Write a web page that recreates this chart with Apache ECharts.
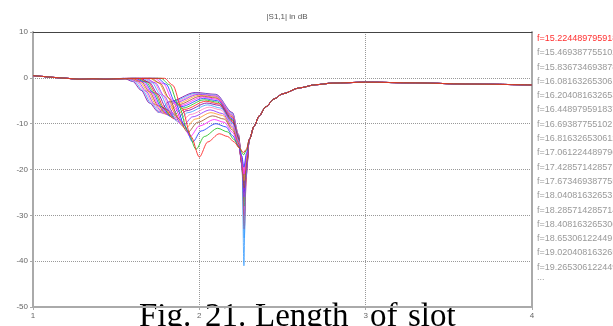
<!DOCTYPE html>
<html>
<head>
<meta charset="utf-8">
<script src="https://cdn.jsdelivr.net/npm/echarts@6/dist/echarts.min.js"></script>
<style>
  html, body { margin: 0; padding: 0; background: #fff; }
  #chart { width: 613px; height: 326px; }
</style>
</head>
<body>
<div id="chart"></div>
<script>
// frequency of each sweep (legend text, 14 significant digits like the source)
const freqs = [
  '15.224489795918', '15.469387755102', '15.836734693878', '16.081632653061',
  '16.204081632653', '16.448979591837', '16.69387755102', '16.816326530612',
  '17.061224489796', '17.428571428571', '17.673469387755', '18.040816326531',
  '18.285714285714', '18.408163265306', '18.65306122449', '19.020408163265',
  '19.265306122449', '19.510204081633', '19.877551020408', '20.122448979592'
]
const legendShown = 17

const xTicks = [1, 2, 3, 4]
const yTicks = [10, 0, -10, -20, -30, -40, -50]

// part every sweep shares (flat start)
const headPts = [[1.0, 0.5], [1.06, 0.3], [1.12, 0.1], [1.2, -0.1], [1.28, -0.3], [1.36, -0.2], [1.44, -0.3], [1.5, -0.2]]

// part every sweep shares (right side of the main notch and the flat end)
const tailPts = [[2.30, -13.5], [2.33, -10.5], [2.36, -8.3], [2.4, -6.3], [2.45, -4.6], [2.5, -3.5], [2.6, -2.2],
  [2.7, -1.5], [2.8, -1.15], [3.0, -0.95], [3.3, -1.1], [3.6, -1.35], [4.0, -1.55]]

// per sweep: first dip, hump, main notch
const curvePts = [
  [[1.79,-0.1],[1.84,-1.6],[1.895,-6.6],[1.95,-12.8],[2.0,-17.3],[2.05,-14.0],[2.12,-12.2],[2.17,-12.8],[2.21,-14.0],[2.24,-15.3],[2.265,-16.3],[2.283,-15.6]],
  [[1.77,-0.1],[1.82,-1.5],[1.875,-5.9],[1.93,-11.6],[1.98,-15.6],[2.03,-12.8],[2.11,-11.0],[2.17,-11.8],[2.21,-13.5],[2.24,-15.2],[2.266,-16.8],[2.283,-15.8]],
  [[1.75,-0.1],[1.80,-1.4],[1.855,-5.3],[1.91,-10.4],[1.96,-14.0],[2.01,-11.6],[2.10,-10.0],[2.16,-10.7],[2.2,-12.6],[2.235,-14.8],[2.255,-17.0],[2.268,-19.5],[2.283,-16.5]],
  [[1.73,-0.1],[1.785,-1.3],[1.84,-4.9],[1.895,-9.6],[1.945,-12.8],[2.0,-10.5],[2.09,-9.1],[2.15,-9.7],[2.2,-11.9],[2.235,-14.5],[2.255,-17.5],[2.268,-21],[2.283,-17]],
  [[1.71,-0.1],[1.765,-1.2],[1.82,-4.5],[1.875,-8.9],[1.93,-11.9],[1.99,-9.7],[2.08,-8.3],[2.15,-9.0],[2.2,-11.4],[2.235,-14.3],[2.254,-18],[2.27,-24],[2.285,-18.5]],
  [[1.70,-0.1],[1.755,-1.1],[1.81,-4.2],[1.86,-8.3],[1.915,-11.1],[1.975,-9.0],[2.07,-7.6],[2.14,-8.2],[2.2,-11.0],[2.235,-14.1],[2.254,-17.8],[2.268,-22.5],[2.284,-18]],
  [[1.68,-0.1],[1.735,-1.1],[1.79,-4.0],[1.845,-7.9],[1.90,-10.5],[1.96,-8.5],[2.065,-7.0],[2.14,-7.8],[2.2,-10.7],[2.235,-13.9],[2.254,-18.5],[2.27,-26],[2.285,-19.5]],
  [[1.67,-0.1],[1.725,-1.0],[1.78,-3.8],[1.83,-7.5],[1.885,-10.0],[1.945,-8.0],[2.06,-6.4],[2.13,-7.0],[2.2,-10.3],[2.235,-13.7],[2.254,-17],[2.267,-20.5],[2.284,-17.2]],
  [[1.66,-0.1],[1.715,-1.0],[1.765,-3.6],[1.82,-7.2],[1.87,-9.6],[1.93,-7.6],[2.05,-5.9],[2.13,-6.6],[2.2,-10.0],[2.235,-13.5],[2.257,-19],[2.268,-41],[2.278,-22]],
  [[1.645,-0.1],[1.70,-1.0],[1.75,-3.5],[1.805,-6.9],[1.86,-9.2],[1.92,-7.2],[2.045,-5.5],[2.12,-6.0],[2.2,-9.7],[2.235,-13.4],[2.254,-18.2],[2.269,-25],[2.285,-19]],
  [[1.635,-0.1],[1.69,-0.9],[1.74,-3.4],[1.79,-6.7],[1.845,-8.9],[1.91,-6.9],[2.04,-5.1],[2.12,-5.7],[2.2,-9.4],[2.235,-13.2],[2.256,-19],[2.27,-33],[2.283,-21]],
  [[1.625,-0.1],[1.68,-0.9],[1.73,-3.3],[1.78,-6.5],[1.835,-8.6],[1.90,-6.6],[2.03,-4.8],[2.11,-5.3],[2.2,-9.2],[2.235,-13.1],[2.255,-18.5],[2.27,-28],[2.285,-19.5]],
  [[1.615,-0.1],[1.67,-0.9],[1.72,-3.2],[1.77,-6.3],[1.825,-8.4],[1.89,-6.3],[2.025,-4.5],[2.11,-5.0],[2.2,-9.0],[2.235,-13.0],[2.254,-17.8],[2.268,-23],[2.284,-18]],
  [[1.605,-0.1],[1.66,-0.9],[1.71,-3.1],[1.76,-6.2],[1.815,-8.2],[1.88,-6.1],[2.02,-4.2],[2.11,-4.7],[2.2,-8.8],[2.235,-12.9],[2.255,-18.8],[2.27,-30],[2.285,-20]],
  [[1.595,-0.1],[1.65,-0.8],[1.70,-3.0],[1.75,-6.0],[1.805,-8.0],[1.87,-5.9],[2.01,-4.0],[2.1,-4.4],[2.2,-8.6],[2.235,-12.8],[2.254,-17.5],[2.268,-22],[2.284,-17.8]],
  [[1.585,-0.1],[1.64,-0.8],[1.69,-2.9],[1.74,-5.9],[1.795,-7.9],[1.86,-5.7],[2.0,-3.8],[2.1,-4.2],[2.2,-8.4],[2.235,-12.7],[2.254,-18.2],[2.269,-27],[2.285,-19.3]],
  [[1.575,-0.1],[1.63,-0.8],[1.68,-2.9],[1.73,-5.8],[1.785,-7.8],[1.85,-5.5],[1.995,-3.6],[2.1,-4.0],[2.2,-8.2],[2.235,-12.6],[2.254,-18],[2.269,-24.5],[2.285,-18.8]],
  [[1.565,-0.1],[1.62,-0.8],[1.67,-2.8],[1.72,-5.7],[1.775,-7.7],[1.84,-5.4],[1.99,-3.5],[2.1,-3.8],[2.2,-8.0],[2.235,-12.5],[2.254,-17.2],[2.267,-21.5],[2.284,-17.5]],
  [[1.555,-0.1],[1.61,-0.8],[1.66,-2.8],[1.71,-5.6],[1.765,-7.6],[1.83,-5.3],[1.98,-3.35],[2.1,-3.7],[2.2,-7.8],[2.235,-12.4],[2.256,-19],[2.27,-35],[2.282,-21.5]],
  [[1.545,-0.1],[1.60,-0.8],[1.65,-2.7],[1.70,-5.5],[1.755,-7.5],[1.82,-5.2],[1.975,-3.2],[2.1,-3.6],[2.2,-7.6],[2.235,-12.3],[2.254,-18],[2.269,-26.5],[2.285,-19]]
]

const palette = ['#ff2020', '#20c020', '#2040ff', '#ff20ff', '#a0522d', '#ff9a30', '#9030ff', '#ff80c0', '#40a0ff', '#8000a0']

const captionWords = ['Fig.', '21.', 'Length', 'of', 'slot']

const chart = echarts.init(document.getElementById('chart'))

const series = curvePts.map((pts, i) => ({
  name: 'f=' + freqs[i],
  type: 'line',
  data: headPts.concat(pts, tailPts),
  showSymbol: false,
  smooth: 0.3,
  smoothMonotone: 'x',
  z: 2 + (curvePts.length - i) / 100,
  lineStyle: { width: 1, color: palette[i % palette.length], opacity: 0.85 },
  emphasis: { disabled: true },
}))

const legendText = freqs.slice(0, legendShown).map((f, i) => ({
  type: 'text',
  left: 537,
  top: 34 + i * 14.3,
  style: { text: 'f=' + f, fill: i === 0 ? '#ff3030' : '#999', font: '9px "Liberation Sans"' },
}))
legendText.push({
  type: 'text', left: 537, top: 34 + legendShown * 14.3 - 4,
  style: { text: '...', fill: '#999', font: '9px "Liberation Sans"' },
})

// caption of the paper figure, partly cut by the bottom edge
const captionX = [139, 205, 255, 370, 408]
const captionText = captionWords.map((w, i) => ({
  type: 'text',
  left: captionX[i],
  top: 301,
  style: { text: w, fill: '#000', font: '33px "Liberation Serif"' },
}))

const axisText = { color: '#666', fontSize: 8, fontFamily: 'Liberation Sans' }

const option = {
  animation: false,
  backgroundColor: '#fff',
  title: {
    text: '|S1,1| in dB',
    left: 282,
    top: 8,
    textAlign: 'center',
    textStyle: { color: '#555', fontSize: 8, fontWeight: 'normal', fontFamily: 'Liberation Sans' },
  },
  grid: { left: 33, right: 81, top: 32, bottom: 19 },
  xAxis: [
    {
      type: 'value', min: xTicks[0], max: xTicks[xTicks.length - 1], interval: 1,
      axisLine: { onZero: false, lineStyle: { color: '#aaa', width: 2 } },
      axisTick: { show: true, length: 3, lineStyle: { color: '#aaa' } },
      axisLabel: { ...axisText, margin: 5 },
      splitLine: { show: true, lineStyle: { color: '#999', type: 'dotted', width: 1 } },
    },
    {
      type: 'value', position: 'top', min: 1, max: 4, interval: 1,
      axisLine: { show: true, onZero: false, lineStyle: { color: '#444', width: 1 } },
      axisTick: { show: false }, axisLabel: { show: false }, splitLine: { show: false },
    },
  ],
  yAxis: [
    {
      type: 'value', min: yTicks[yTicks.length - 1], max: yTicks[0], interval: 10,
      axisLine: { show: true, onZero: false, lineStyle: { color: '#aaa', width: 2 } },
      axisTick: { show: true, length: 3, lineStyle: { color: '#aaa' } },
      axisLabel: { ...axisText, margin: 5 },
      splitLine: { show: true, lineStyle: { color: '#999', type: 'dotted', width: 1 } },
    },
    {
      type: 'value', position: 'right', min: -50, max: 10, interval: 10,
      axisLine: { show: true, onZero: false, lineStyle: { color: '#aaa', width: 2 } },
      axisTick: { show: false }, axisLabel: { show: false }, splitLine: { show: false },
    },
  ],
  graphic: legendText.concat(captionText),
  series,
}

chart.setOption(option)

window.addEventListener('resize', () => chart.resize())
</script>
</body>
</html>
